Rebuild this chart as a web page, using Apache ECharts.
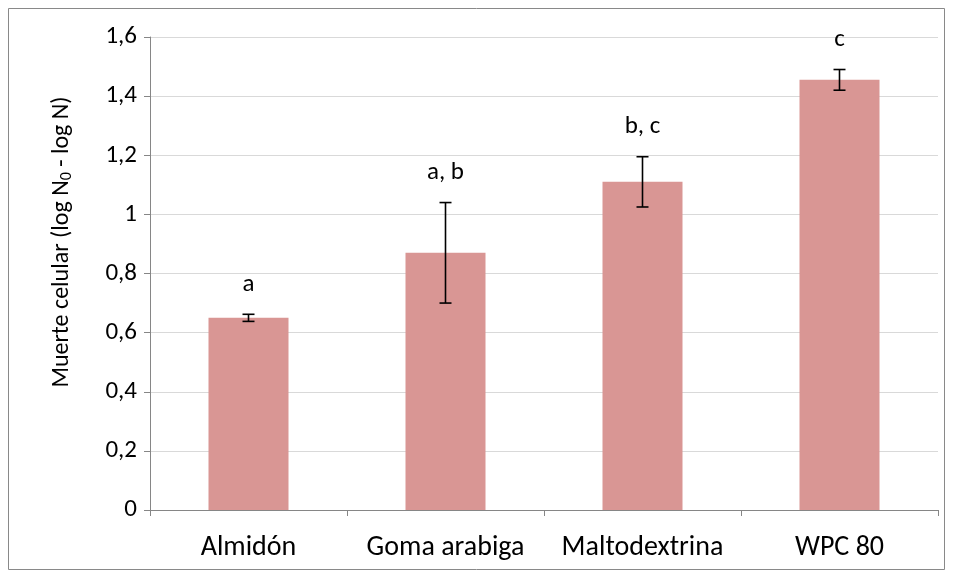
<!DOCTYPE html>
<html>
<head>
<meta charset="utf-8">
<script src="https://cdn.jsdelivr.net/npm/echarts@6/dist/echarts.min.js"></script>
<style>
html,body{margin:0;padding:0;background:#fff;}
#chart{width:953px;height:578px;}
</style>
</head>
<body>
<div id="chart"></div>
<script>
const categories = ['Almidón', 'Goma arabiga', 'Maltodextrina', 'WPC 80'];
const means = [0.65, 0.87, 1.11, 1.455];
const errors = [0.012, 0.17, 0.085, 0.035];
const letters = ['a', 'a, b', 'b, c', 'c'];
const yMin = 0, yMax = 1.6, yStep = 0.2;

const FONT = "Carlito, 'Open Sans', sans-serif";
const chart = echarts.init(document.getElementById('chart'));

const errData = categories.map((c, i) => [i, means[i] - errors[i], means[i] + errors[i], letters[i]]);

chart.setOption({
  animation: false,
  backgroundColor: '#fff',
  grid: { left: 150, right: 15, top: 37, bottom: 68, containLabel: false },
  graphic: [
    { type: 'rect', shape: { x: 8.5, y: 8.5, width: 936, height: 561 }, style: { fill: 'none', stroke: '#898989', lineWidth: 1 }, z: -1 },
    {
      type: 'text', x: 62, y: 242, rotation: Math.PI / 2,
      style: {
        text: '{a|Muerte celular (log N}{s|0}{a| - log N)}',
        align: 'center', verticalAlign: 'middle',
        rich: {
          a: { fontSize: 24, fontFamily: FONT, fill: '#000' },
          s: { fontSize: 16, fontFamily: FONT, fill: '#000', padding: [10, 0, 0, 0] }
        }
      }
    }
  ],
  xAxis: {
    type: 'category',
    data: categories,
    axisLine: { lineStyle: { color: '#868686', width: 1 } },
    axisTick: { show: true, interval: 0, length: 6, lineStyle: { color: '#868686' } },
    axisLabel: { color: '#000', fontSize: 28, fontFamily: FONT, margin: 24, interval: 0 }
  },
  yAxis: {
    type: 'value',
    min: yMin, max: yMax, interval: yStep,
    axisLine: { show: true, lineStyle: { color: '#868686', width: 1 } },
    axisTick: { show: true, length: 6, lineStyle: { color: '#868686' } },
    axisLabel: {
      color: '#000', fontSize: 25, fontFamily: FONT, margin: 13,
      formatter: v => String(Number(v.toFixed(1))).replace('.', ',')
    },
    splitLine: { lineStyle: { color: '#d9d9d9', width: 1 } }
  },
  series: [
    {
      type: 'bar',
      data: means,
      barWidth: 80,
      itemStyle: { color: '#d99694' }
    },
    {
      type: 'custom',
      data: errData,
      z: 10,
      renderItem: function (params, api) {
        const x = api.value(0);
        const lo = api.coord([x, api.value(1)]);
        const hi = api.coord([x, api.value(2)]);
        const cap = 6;
        const st = { stroke: '#000', lineWidth: 1.6 };
        return {
          type: 'group',
          children: [
            { type: 'line', shape: { x1: hi[0], y1: hi[1], x2: lo[0], y2: lo[1] }, style: st },
            { type: 'line', shape: { x1: hi[0] - cap, y1: hi[1], x2: hi[0] + cap, y2: hi[1] }, style: st },
            { type: 'line', shape: { x1: lo[0] - cap, y1: lo[1], x2: lo[0] + cap, y2: lo[1] }, style: st },
            { type: 'text', style: { text: errData[params.dataIndex][3], x: hi[0], y: hi[1] - 30, align: 'center', verticalAlign: 'middle', fontSize: 25, fontFamily: FONT, fill: '#000' } }
          ]
        };
      }
    }
  ]
});
</script>
</body>
</html>
